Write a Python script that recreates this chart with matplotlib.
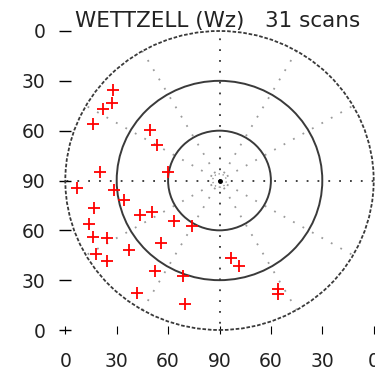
import numpy as np
import matplotlib
matplotlib.use("Agg")
import matplotlib.pyplot as plt
from matplotlib.patches import Circle

# Scan positions as (east, north) offsets in zenith-distance degrees
scan_x = [-62.1, -63.0, -67.9, -74.1, -40.6, -36.4, -69.8, -29.9, -83.1, -61.7,
          -55.6, -73.2, -46.5, -39.6, -26.6, -76.1, -74.1, -65.6, -34.4, -52.7,
          -72.2, -65.6, -37.5, -21.5, -48.4, -20.2, -16.2, 6.7, 11.4, 34.4, 34.4]
scan_y = [54.7, 46.7, 43.1, 34.3, 30.2, 21.2, 5.0, 5.0, -4.4, -5.8,
          -11.8, -16.8, -20.9, -18.8, -24.1, -25.9, -33.9, -34.9, -37.5, -41.9,
          -44.5, -48.5, -54.5, -57.5, -67.9, -74.1, -27.5, -46.9, -51.5, -65.5, -68.6]

tick_pos = [-90, -60, -30, 0, 30, 60, 90]
tick_labels = ["0", "30", "60", "90", "60", "30", "0"]
title = "WETTZELL (Wz)   31 scans"

fig = plt.figure(figsize=(3.75, 3.71), dpi=100)
ax = fig.add_axes([65.3 / 375, 1 - 330 / 371, 308.4 / 375, 299 / 371])
ax.set_xlim(-90, 90)
ax.set_ylim(-90, 90)
for s in ax.spines.values():
    s.set_visible(False)

# radial grid lines
for az in range(0, 360, 30):
    a = np.radians(az)
    if az % 90 == 0:
        ax.plot([0, 90 * np.sin(a)], [0, 90 * np.cos(a)], color="#333333",
                lw=1.3, ls=(0, (1, 5)), clip_on=False, zorder=1)
    else:
        ax.plot([5 * np.sin(a), 90 * np.sin(a)], [5 * np.cos(a), 90 * np.cos(a)],
                color="#9a9a9a", lw=1.3, ls=(0, (1, 5)), clip_on=False, zorder=1)

# elevation circles
ax.add_patch(Circle((0, 0), 90, fill=False, ec="#3a3a3a", lw=1.3, ls=(0, (2, 1)),
                    clip_on=False, zorder=2))
for r in (60, 30):
    ax.add_patch(Circle((0, 0), r, fill=False, ec="#3a3a3a", lw=1.4,
                        clip_on=False, zorder=2))
ax.add_patch(Circle((0, 0), 4, fill=False, ec="#999999", lw=1.0, ls=(0, (1, 2)),
                    zorder=2))
ax.plot([0], [0], marker="o", ms=2.5, color="black", zorder=3)

# scans
ax.plot(scan_x, scan_y, ls="none", marker="+", ms=9, mew=1.3, color="#ff0000",
        zorder=4, clip_on=False)

ax.set_xticks(tick_pos)
ax.set_xticklabels(tick_labels)
ax.set_yticks(tick_pos)
ax.set_yticklabels(tick_labels)
ax.tick_params(axis="y", direction="inout", length=8.6, width=1.0, color="black",
               pad=10, labelsize=13.5, labelcolor="#222222")
ax.tick_params(axis="x", direction="inout", length=5.5, width=0.8, color="black",
               pad=13, labelsize=13.5, labelcolor="#222222")

fig.text(75 / 375, 1 - 27 / 371, title, fontsize=15.5, color="#222222",
         ha="left", va="baseline")

fig.savefig("out.png", dpi=100)
